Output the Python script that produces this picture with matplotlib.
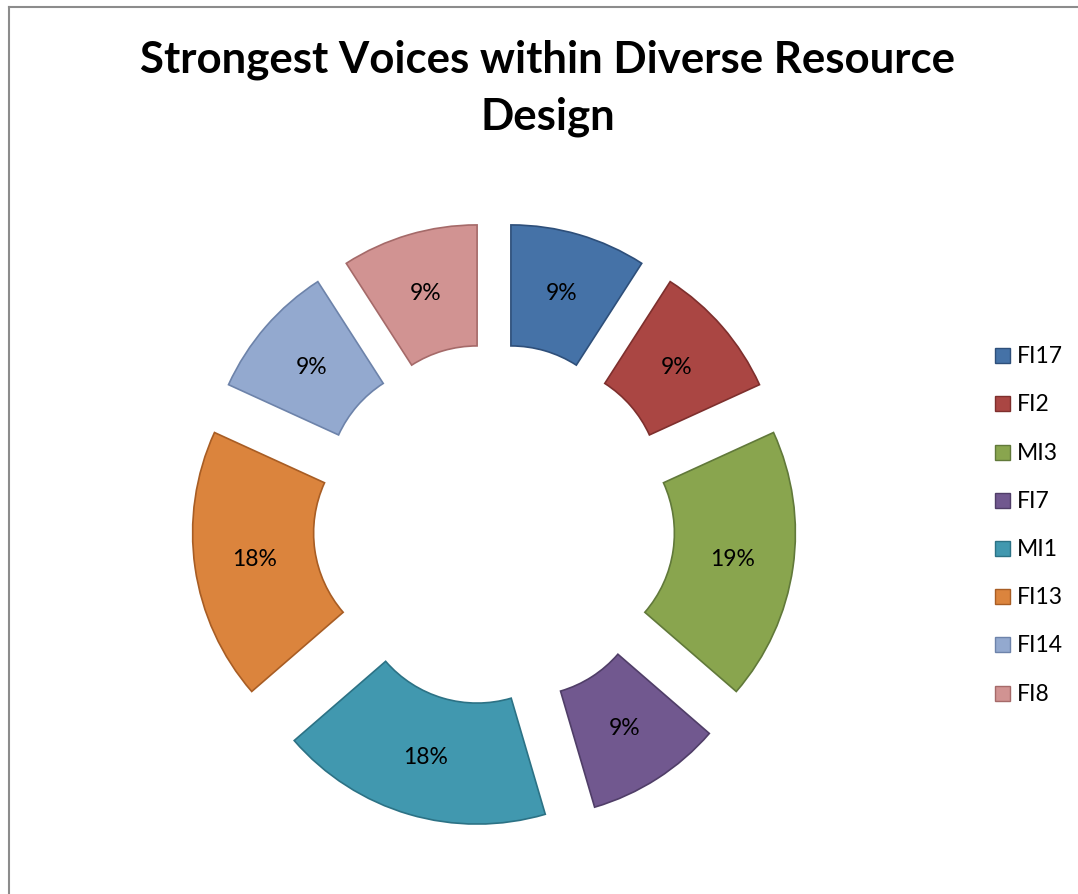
import matplotlib
matplotlib.use("Agg")
import matplotlib.pyplot as plt
from matplotlib.patches import Rectangle
from matplotlib.lines import Line2D

labels = ["FI17", "FI2", "MI3", "FI7", "MI1", "FI13", "FI14", "FI8"]
values = [9.1, 9.1, 18.2, 9.1, 18.2, 18.2, 9.1, 9.1]
pct_labels = ["9%", "9%", "19%", "9%", "18%", "18%", "9%", "9%"]
colors = ["#4572A7", "#AA4643", "#89A54E", "#71588F", "#4198AF", "#DB843D", "#93A9CF", "#D19392"]
edges = ["#2E4F7A", "#7E2F2D", "#61793A", "#503E68", "#2C7285", "#A85D24", "#6D83AA", "#A56A69"]
title = "Strongest Voices within Diverse Resource\nDesign"

W, H = 1078, 895
fig = plt.figure(figsize=(W / 100, H / 100), dpi=100)
ax = fig.add_axes([0, 0, 1, 1])
ax.set_xlim(0, W)
ax.set_ylim(0, H)
ax.set_aspect("equal")
ax.axis("off")

font = "Lato"
cx, cy = 494, H - 525.5
R = 242
wedges, texts, autotexts = ax.pie(
    values, colors=colors, startangle=90, counterclock=False,
    radius=R, center=(cx, cy), explode=[60] * len(values),
    wedgeprops=dict(width=121, linewidth=1.2),
    autopct="%.0f%%", pctdistance=0.75,
    textprops=dict(fontsize=16.5, family=font, color="black"),
)
for w, e in zip(wedges, edges):
    w.set_edgecolor(e)
for t, s in zip(autotexts, pct_labels):
    t.set_text(s)
ax.set_xlim(0, W)
ax.set_ylim(0, H)

ax.text(547.5, H - 88.5, title, ha="center", va="center", fontsize=31.5,
        fontweight="bold", family=font, linespacing=1.5)

# legend
lx, ly0, step = 995, H - 356.7, 48.2
for i, (lab, c, e) in enumerate(zip(labels, colors, edges)):
    y = ly0 - i * step
    ax.add_patch(Rectangle((lx, y - 7.5), 15, 15, facecolor=c, edgecolor=e, lw=1))
    ax.text(lx + 21.5, y, lab, ha="left", va="center", fontsize=16.5, family=font)

# frame lines
ax.add_line(Line2D([8.5, 8.5], [0, H - 7.5], color="#8c8c8c", lw=1.5))
ax.add_line(Line2D([8.5, W], [H - 7.5, H - 7.5], color="#8c8c8c", lw=1.5))

fig.savefig("out.png", dpi=100)
